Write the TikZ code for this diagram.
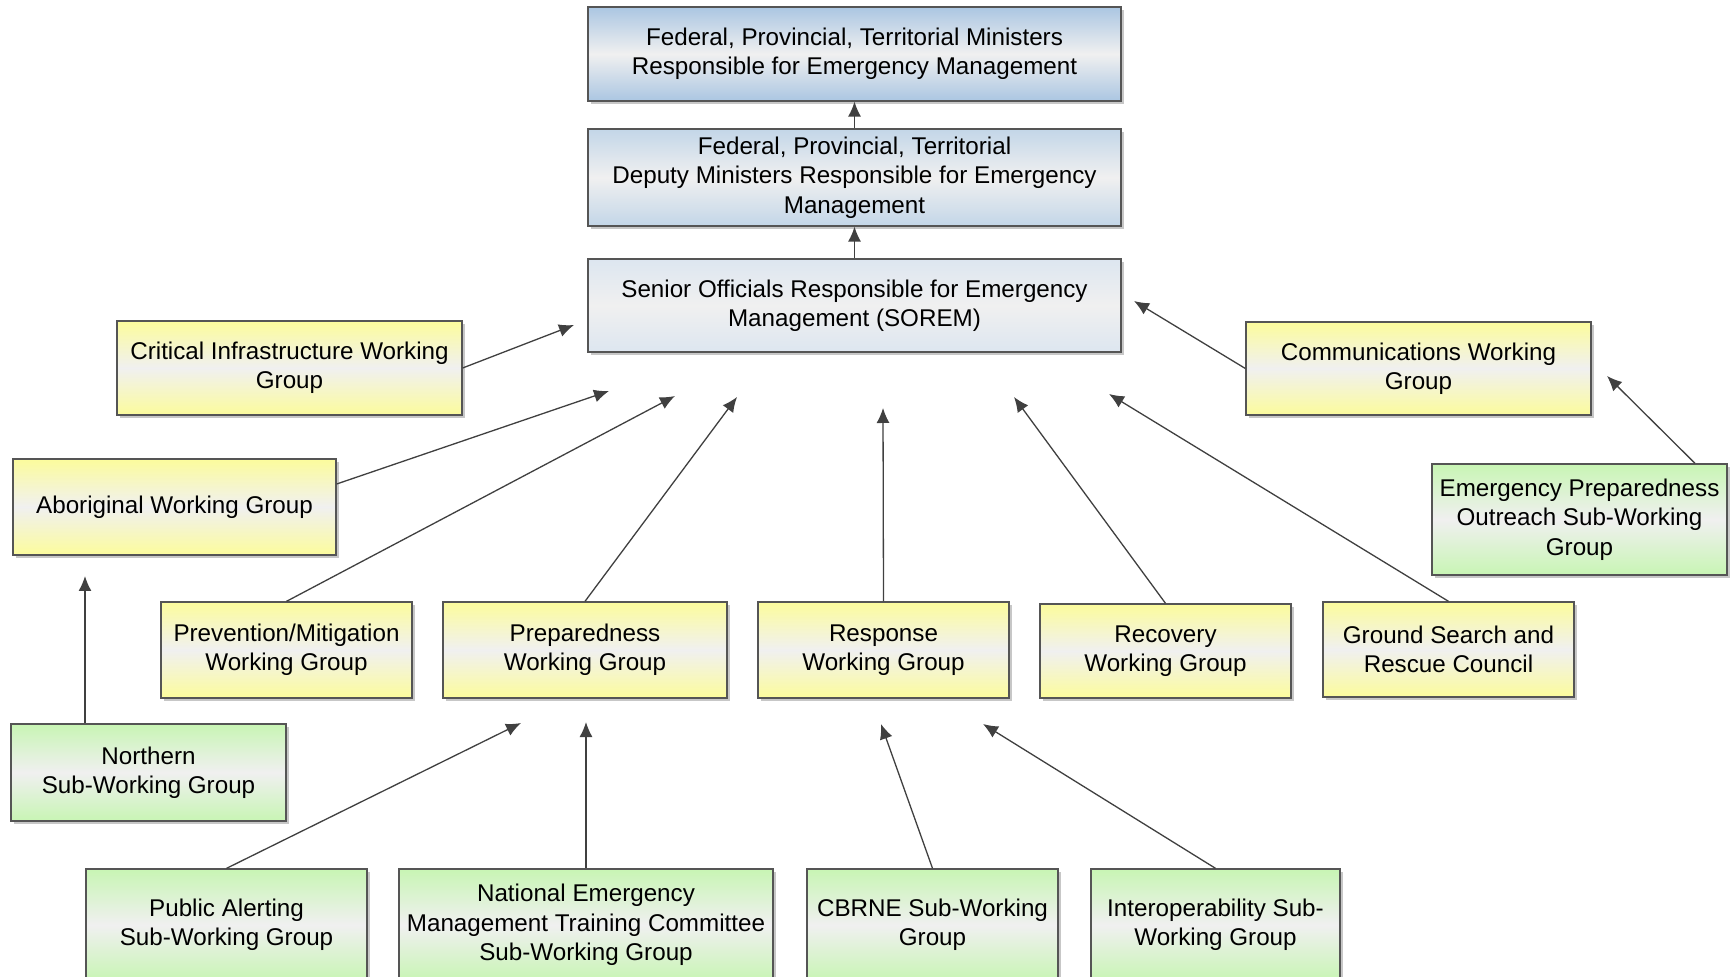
\documentclass[tikz,border=0pt]{standalone}
\usepackage{fontspec}
\setmainfont{Liberation Sans}
\usetikzlibrary{arrows.meta,shadows}

\definecolor{edgegray}{HTML}{555555}
\definecolor{arrowgray}{HTML}{404040}
\definecolor{midgray}{HTML}{F0F0F0}
\definecolor{minblue}{HTML}{ABC6E2}
\definecolor{depblue}{HTML}{C3D6E8}
\definecolor{soremblue}{HTML}{DDE6F0}
\definecolor{wgyellow}{HTML}{FCFC9C}
\definecolor{swggreen}{HTML}{C8F5B4}

\tikzset{
  box/.style={draw=edgegray, line width=0.65pt, align=center, inner sep=2pt,
    font=\fontsize{12.1}{14.7}\selectfont,
    drop shadow={shadow xshift=1.5pt, shadow yshift=-1.5pt, fill=black!22, opacity=1}},
  shadedbox/.style={box, top color=#1, bottom color=#1, middle color=midgray},
  wgbox/.style={shadedbox=wgyellow},
  swgbox/.style={shadedbox=swggreen},
  link/.style={draw=arrowgray, line width=0.65pt, -{Latex[length=7.5pt, width=6.5pt]}},
}

\begin{document}
\begin{tikzpicture}[x=0.5pt, y=-0.5pt]
      \path[use as bounding box, fill=white] (0,0) rectangle (1734,977);

      % ministers, deputies, SOREM
      \node[shadedbox=minblue, minimum width=266.5pt, minimum height=47pt] (fptmin) at (854.5,54)
            {Federal, Provincial, Territorial Ministers\\Responsible for Emergency Management};
      \node[shadedbox=depblue, minimum width=266.5pt, minimum height=48.5pt] (fptdep) at (854.5,177.5)
            {Federal, Provincial, Territorial\\Deputy Ministers Responsible for Emergency\\Management};
      \node[shadedbox=soremblue, minimum width=266.5pt, minimum height=46.5pt] (sorem) at (854.5,305.5)
            {Senior Officials Responsible for Emergency\\Management (SOREM)};

      % working groups
      \node[wgbox, minimum width=172.5pt, minimum height=47pt] (crit) at (289.5,368)
            {Critical Infrastructure Working\\Group};
      \node[wgbox, minimum width=172.5pt, minimum height=46.5pt] (comms) at (1418.5,368.5)
            {Communications Working\\Group};
      \node[wgbox, minimum width=161.5pt, minimum height=48pt] (abor) at (174.5,507)
            {Aboriginal Working Group};
      \node[wgbox, minimum width=125.5pt, minimum height=48pt] (prev) at (286.5,650)
            {Prevention/Mitigation\\Working Group};
      \node[wgbox, minimum width=142pt, minimum height=48pt] (prep) at (585,650)
            {Preparedness\\Working Group};
      \node[wgbox, minimum width=125.5pt, minimum height=48pt] (resp) at (883.5,650)
            {Response\\Working Group};
      \node[wgbox, minimum width=125.5pt, minimum height=47pt] (recov) at (1165.5,651)
            {Recovery\\Working Group};
      \node[wgbox, minimum width=125.5pt, minimum height=47.5pt] (gsar) at (1448.5,649.5)
            {Ground Search and\\Rescue Council};

      % sub-working groups
      \node[swgbox, minimum width=147.5pt, minimum height=55.5pt] (epout) at (1579.5,519.5)
            {Emergency Preparedness\\Outreach Sub-Working\\Group};
      \node[swgbox, minimum width=137.5pt, minimum height=48.5pt] (north) at (148.5,772.5)
            {Northern\\Sub-Working Group};
      \node[swgbox, minimum width=140.5pt, minimum height=56pt] (alert) at (226.5,925)
            {Public Alerting\\Sub-Working Group};
      \node[swgbox, minimum width=187pt, minimum height=56pt] (nemtc) at (586,925)
            {National Emergency\\Management Training Committee\\Sub-Working Group};
      \node[swgbox, minimum width=125.5pt, minimum height=56pt] (cbrne) at (932.5,925)
            {CBRNE Sub-Working\\Group};
      \node[swgbox, minimum width=124.5pt, minimum height=56pt] (interop) at (1215.5,925)
            {Interoperability Sub-\\Working Group};

      % open arrow ends
      \coordinate (e-crit) at (574,325);
      \coordinate (e-comms) at (1134,301);
      \coordinate (e-abor) at (609,391);
      \coordinate (e-prev) at (675,396);
      \coordinate (e-prep) at (737,397);
      \coordinate (e-resp) at (883,408);
      \coordinate (e-recov) at (1014,397);
      \coordinate (e-gsar) at (1109,394);
      \coordinate (e-epout) at (1607,376);
      \coordinate (e-north) at (85,576);
      \coordinate (e-alert) at (521,723);
      \coordinate (e-nemtc) at (586,722);
      \coordinate (e-cbrne) at (881,724);
      \coordinate (e-interop) at (983,724);

      \draw[link] (fptdep.north) -- (fptmin.south);
      \draw[link] (sorem.north) -- (fptdep.south);
      \draw[link] (crit.east) -- (e-crit);
      \draw[link] (comms.west) -- (e-comms);
      \draw[link] ([yshift=11.5pt]abor.east) -- (e-abor);
      \draw[link] (prev.north) -- (e-prev);
      \draw[link] (prep.north) -- (e-prep);
      \draw[link] (resp.north) -- (e-resp);
      \draw[link] (recov.north) -- (e-recov);
      \draw[link] (gsar.north) -- (e-gsar);
      \draw[link] ([xshift=57.75pt]epout.north) -- (e-epout);
      \draw[link] ([xshift=-31.75pt]north.north) -- (e-north);
      \draw[link] (alert.north) -- (e-alert);
      \draw[link] (nemtc.north) -- (e-nemtc);
      \draw[link] (cbrne.north) -- (e-cbrne);
      \draw[link] (interop.north) -- (e-interop);
\end{tikzpicture}
\end{document}
